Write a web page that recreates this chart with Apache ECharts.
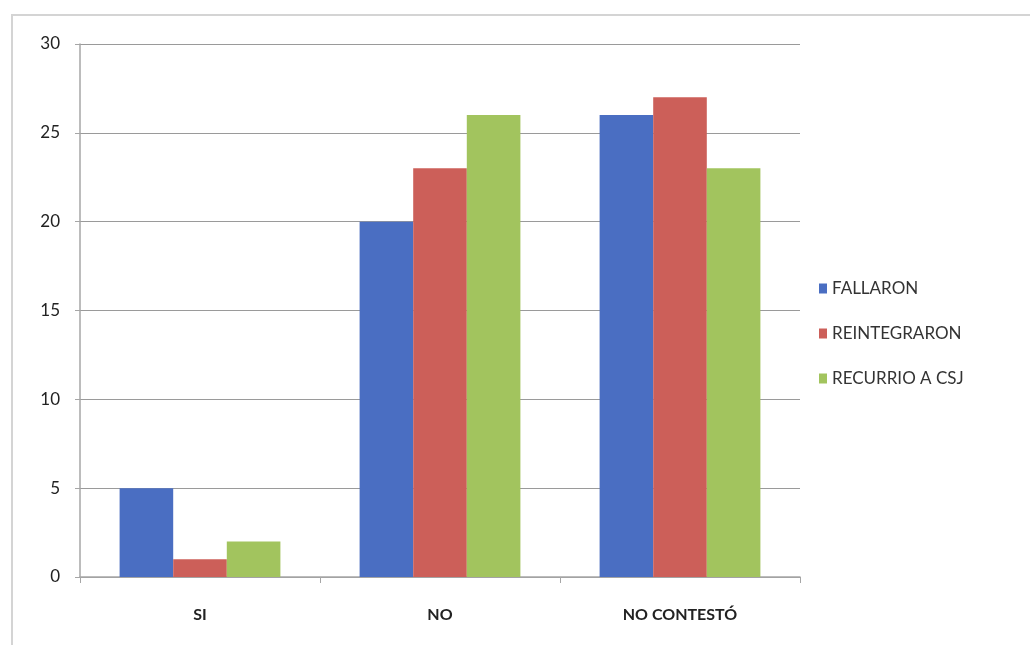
<!DOCTYPE html>
<html>
<head>
<meta charset="utf-8">
<script src="https://cdn.jsdelivr.net/npm/echarts@6/dist/echarts.min.js"></script>
<style>
  html, body { margin: 0; padding: 0; background: #fff; }
  #chart { width: 1030px; height: 645px; }
</style>
</head>
<body>
<div id="chart"></div>
<script>
// Responses per category
const categories = ['SI', 'NO', 'NO CONTESTÓ'];
const fallaron = [5, 20, 26];
const reintegraron = [1, 23, 27];
const recurrio = [2, 26, 23];
const seriesNames = ['FALLARON', 'REINTEGRARON', 'RECURRIO A CSJ'];

const colors = ['#4a6ec2', '#cc5f59', '#a2c45e'];
const font = 'Lato, "Open Sans", sans-serif';

const chart = echarts.init(document.getElementById('chart'));

function barSeries(name, data, color) {
  return {
    name: name,
    type: 'bar',
    data: data,
    barGap: '0%',
    barCategoryGap: '33%',
    itemStyle: { color: color }
  };
}

chart.setOption({
  animation: false,
  backgroundColor: '#ffffff',
  textStyle: { fontFamily: font },
  graphic: [{
    type: 'rect',
    shape: { x: 12, y: 15, width: 1030, height: 640 },
    style: { fill: 'none', stroke: '#d4d4d4', lineWidth: 2 },
    silent: true
  }],
  grid: { left: 80, right: 230, top: 44, bottom: 68, containLabel: false },
  legend: {
    orient: 'vertical',
    left: 814,
    top: 275,
    itemWidth: 8,
    itemHeight: 10,
    itemGap: 28,
    icon: 'rect',
    textStyle: { fontSize: 17, color: '#333', fontFamily: font },
    data: seriesNames
  },
  xAxis: {
    type: 'category',
    data: categories,
    axisLine: { lineStyle: { color: '#a6a6a6', width: 1.5 } },
    axisTick: { show: true, length: 6, lineStyle: { color: '#a6a6a6' } },
    axisLabel: { fontSize: 16, color: '#222', fontWeight: 'bold', margin: 30, fontFamily: font }
  },
  yAxis: {
    type: 'value',
    min: 0,
    max: 30,
    interval: 5,
    axisLine: { show: true, lineStyle: { color: '#a6a6a6', width: 1.5 } },
    axisTick: { show: true, length: 5, lineStyle: { color: '#a6a6a6' } },
    splitLine: { lineStyle: { color: '#9a9a9a', width: 1.2 } },
    axisLabel: { fontSize: 17, color: '#222', margin: 20, fontFamily: font }
  },
  series: [
    barSeries(seriesNames[0], fallaron, colors[0]),
    barSeries(seriesNames[1], reintegraron, colors[1]),
    barSeries(seriesNames[2], recurrio, colors[2])
  ]
});
</script>
</body>
</html>
